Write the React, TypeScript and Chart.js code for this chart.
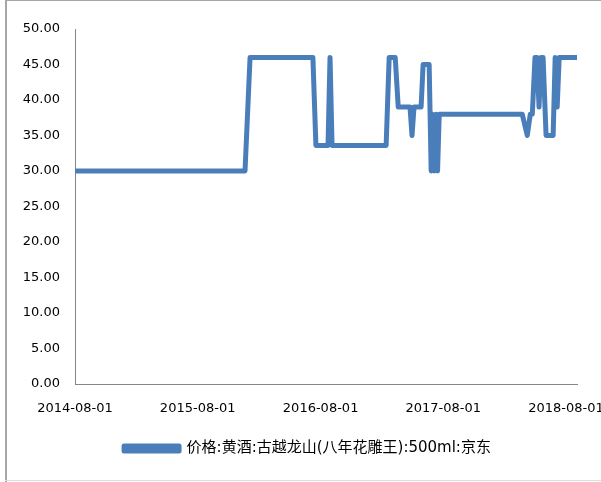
import React, { useEffect, useRef } from 'react';
import { Chart, registerables } from 'chart.js';

Chart.register(...registerables);

const startDate = '2014-08-01';
const seriesName = '价格:黄酒:古越龙山(八年花雕王):500ml:京东';

const dates = [
  '2014-08-01', '2015-12-20', '2016-01-04', '2016-07-09', '2016-07-18', '2016-08-23',
  '2016-08-29', '2016-09-04', '2017-02-12', '2017-02-21', '2017-03-11', '2017-03-20',
  '2017-04-24', '2017-04-30', '2017-05-06', '2017-05-27', '2017-06-02', '2017-06-20',
  '2017-06-26', '2017-06-30', '2017-07-05', '2017-07-11', '2017-07-15', '2017-07-20',
  '2018-03-24', '2018-04-08', '2018-04-17', '2018-04-23', '2018-05-01', '2018-05-07',
  '2018-05-13', '2018-05-19', '2018-05-25', '2018-06-03', '2018-06-24', '2018-06-30',
  '2018-07-06', '2018-07-12', '2018-09-03',
];

const prices = [
  30, 30, 46, 46, 33.6, 33.6,
  46, 33.6, 33.6, 46, 46, 39,
  39, 35, 39, 39, 45, 45,
  30, 38, 30, 38, 30, 38,
  38, 35, 38, 38, 46, 46,
  39, 46, 46, 35, 35, 46,
  39, 46, 46,
];

const xTickLabels = ['2014-08-01', '2015-08-01', '2016-08-01', '2017-08-01', '2018-08-01'];
const yMin = 0;
const yMax = 50;
const yStep = 5;

const toDays = (d: string) => Math.round((Date.parse(d) - Date.parse(startDate)) / 86400000);

const framePlugin = {
  id: 'frame',
  afterDraw(chart: any) {
    const ctx = chart.ctx;
    ctx.save();
    ctx.strokeStyle = '#a6a6a6';
    ctx.lineWidth = 2;
    ctx.beginPath();
    ctx.moveTo(6, 0);
    ctx.lineTo(6, 482);
    ctx.stroke();
    ctx.lineWidth = 1;
    ctx.beginPath();
    ctx.moveTo(5, 0.5);
    ctx.lineTo(601, 0.5);
    ctx.stroke();
    ctx.strokeStyle = '#dcdcdc';
    ctx.beginPath();
    ctx.moveTo(5, 480.5);
    ctx.lineTo(601, 480.5);
    ctx.stroke();
    ctx.restore();
  },
};

// shift the legend box to the right so it sits where the reference has it
const legendShiftPlugin = {
  id: 'legendShift',
  afterLayout(chart: any) {
    const l = chart.legend;
    if (l) {
      l.left += 19;
      l.right += 19;
    }
  },
};

export default function App() {
  const ref = useRef<HTMLCanvasElement | null>(null);

  useEffect(() => {
    if (!ref.current) return;
    const points = dates.map((d, i) => ({ x: toDays(d), y: prices[i] }));
    const tickDays = xTickLabels.map(toDays);
    const labelFont = { family: "'DejaVu Sans', 'Noto Sans CJK SC', sans-serif", size: 13 };
    const chart = new Chart(ref.current, {
      type: 'line',
      data: {
        datasets: [
          {
            label: seriesName,
            data: points,
            borderColor: '#4A7EBB',
            backgroundColor: '#4A7EBB',
            borderWidth: 5,
            pointRadius: 0,
            tension: 0,
            borderJoinStyle: 'round',
            borderCapStyle: 'round',
          },
        ],
      },
      options: {
        responsive: false,
        animation: false,
        layout: { padding: { left: 0, right: 24, top: 29, bottom: 16 } },
        plugins: {
          tooltip: { enabled: false },
          legend: {
            position: 'bottom',
            labels: {
              color: '#000',
              font: { family: "'DejaVu Sans', 'Noto Sans CJK SC', sans-serif", size: 15 },
              boxWidth: 55,
              boxHeight: 5,
              padding: 10,
            },
          },
        },
        scales: {
          x: {
            type: 'linear',
            min: 0,
            max: toDays(dates[dates.length - 1]),
            grid: { display: true, drawOnChartArea: false, drawTicks: false },
            border: { color: '#868686', width: 1 },
            ticks: {
              color: '#000',
              font: labelFont,
              padding: 17,
              maxRotation: 0,
              autoSkip: false,
              callback: (v: any) => {
                const i = tickDays.indexOf(Number(v));
                return i >= 0 ? xTickLabels[i] : '';
              },
            },
            afterBuildTicks: (scale: any) => {
              scale.ticks = tickDays.map((v) => ({ value: v }));
            },
            afterFit: (scale: any) => {
              scale.height = 47;
              scale.paddingLeft = 0;
              scale.paddingRight = 0;
            },
          },
          y: {
            min: yMin,
            max: yMax,
            grid: { display: true, drawOnChartArea: false, drawTicks: false },
            border: { color: '#868686', width: 1 },
            ticks: {
              stepSize: yStep,
              color: '#000',
              font: labelFont,
              padding: 15,
              callback: (v: any) => Number(v).toFixed(2),
            },
            afterFit: (scale: any) => {
              scale.width = 75;
              scale.paddingTop = 0;
              scale.paddingBottom = 0;
            },
          },
        },
      },
      plugins: [framePlugin, legendShiftPlugin],
    } as any);
    return () => chart.destroy();
  }, []);

  return (
    <div style={{ position: 'absolute', left: 0, top: 0, width: 601, height: 482, background: '#fff' }}>
      <canvas ref={ref} width={601} height={482} style={{ display: 'block', width: 601, height: 482 }} />
    </div>
  );
}
